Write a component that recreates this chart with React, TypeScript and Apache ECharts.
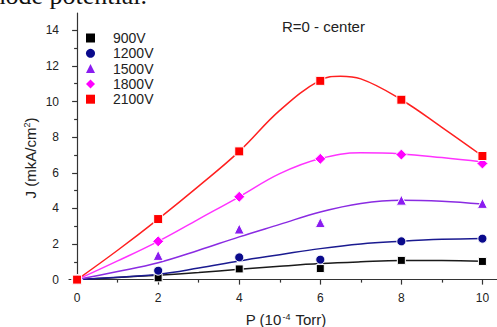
import React, { useEffect, useRef } from "react";
import * as echarts from "echarts";

const pressure = [0, 2, 4, 6, 8, 10];
const j900 = [0, 0.1, 0.6, 0.62, 1.08, 1.02];
const j1200 = [0, 0.5, 1.25, 1.12, 2.15, 2.3];
const j1500 = [0, 1.36, 2.84, 3.2, 4.46, 4.28];
const j1800 = [0, 2.15, 4.65, 6.78, 7.02, 6.52];
const j2100 = [0, 3.4, 7.2, 11.16, 10.1, 6.94];

const fitX = [0, 1, 2, 3, 4, 5, 6, 7, 8, 9, 10];
const fit900 = [0, 0.12, 0.25, 0.4, 0.58, 0.75, 0.9, 1.0, 1.07, 1.07, 1.03];
const fit1200 = [0, 0.13, 0.3, 0.65, 1.05, 1.4, 1.74, 2.0, 2.15, 2.26, 2.31];
const fit1500 = [0, 0.45, 0.95, 1.65, 2.4, 3.1, 3.8, 4.28, 4.46, 4.4, 4.24];
const fit1800 = [0, 1.05, 2.15, 3.4, 4.65, 5.95, 6.8, 7.12, 7.06, 6.85, 6.6];
const fitX2100 = [0, 1, 2, 3, 4, 5, 6, 6.5, 7, 8, 9, 10];
const fit2100 = [0, 1.65, 3.4, 5.25, 7.2, 9.5, 11.2, 11.42, 11.27, 10.1, 8.55, 6.94];

const xMajor = [0, 2, 4, 6, 8, 10];
const xMinor = [1, 3, 5, 7, 9];
const yMajor = [0, 2, 4, 6, 8, 10, 12, 14];
const yMinor = [1, 3, 5, 7, 9, 11, 13];

const names = ["900V", "1200V", "1500V", "1800V", "2100V"];
const colors = ["#000000", "#0a0a8c", "#8a1cf0", "#ff00ff", "#ff0000"];
const lineColors = ["#1a1a1a", "#1a1a90", "#8a2be2", "#ff33ff", "#ff2020"];
const symbols = ["rect", "circle", "triangle", "diamond", "rect"];
const sizes = [8, 9, 10, 11, 9];

export default function App() {
  const ref = useRef<HTMLDivElement>(null);
  useEffect(() => {
    if (!ref.current) return;
    const chart = echarts.init(ref.current, null, { renderer: "svg" });
    const pts = [j900, j1200, j1500, j1800, j2100];
    const fits = [fit900, fit1200, fit1500, fit1800, fit2100];
    const fitXs = [fitX, fitX, fitX, fitX, fitX2100];
    const series: any[] = [];
    fits.forEach((f, i) => {
      series.push({
        type: "line",
        name: names[i] + " fit",
        data: f.map((v, k) => [fitXs[i][k], v]),
        smooth: 0.4,
        showSymbol: false,
        symbol: "none",
        lineStyle: { color: lineColors[i], width: 1.5 },
        z: 2,
      });
    });
    pts.forEach((p, i) => {
      series.push({
        type: "scatter",
        name: names[i],
        data: p.map((v, k) => [pressure[k], v]),
        symbol: symbols[i],
        symbolSize: sizes[i],
        itemStyle: { color: colors[i], borderColor: "#ffffff", borderWidth: 1, opacity: 1 },
        z: 3,
      });
    });
    const axisLineStyle = { color: "#333", width: 1.2 };
    chart.setOption({
      animation: false,
      grid: { left: 69, top: 13, right: 0, bottom: 44, containLabel: false },
      legend: {
        data: names.map((n, i) => ({ name: n, icon: symbols[i], itemStyle: { color: colors[i], borderWidth: 0 } })),
        orient: "vertical",
        left: 86,
        top: 31,
        padding: 0,
        itemWidth: 9,
        itemHeight: 9,
        itemGap: 1.3,
        textStyle: { fontFamily: "Liberation Sans", fontSize: 14, color: "#222", lineHeight: 14, padding: [0, 0, 0, 13] },
      },
      xAxis: [
        {
          type: "value",
          min: -0.2,
          max: 10.36,
          axisLine: { show: true, lineStyle: axisLineStyle },
          axisTick: { show: true, inside: false, length: 5, customValues: xMajor, lineStyle: axisLineStyle },
          axisLabel: { customValues: xMajor, margin: 9, fontFamily: "Liberation Sans", fontSize: 12, color: "#222" },
          splitLine: { show: false },
        },
        {
          type: "value",
          position: "bottom",
          min: -0.2,
          max: 10.36,
          axisLine: { show: false },
          axisTick: { show: true, inside: false, length: 3, customValues: xMinor, lineStyle: axisLineStyle },
          axisLabel: { show: false },
          splitLine: { show: false },
        },
      ],
      yAxis: [
        {
          type: "value",
          min: -0.19,
          max: 14.97,
          axisLine: { show: true, lineStyle: axisLineStyle },
          axisTick: { show: true, inside: false, length: 5, customValues: yMajor, lineStyle: axisLineStyle },
          axisLabel: { customValues: yMajor, margin: 10, fontFamily: "Liberation Sans", fontSize: 12, color: "#222" },
          splitLine: { show: false },
        },
        {
          type: "value",
          position: "left",
          min: -0.19,
          max: 14.97,
          axisLine: { show: false },
          axisTick: { show: true, inside: false, length: 3, customValues: yMinor, lineStyle: axisLineStyle },
          axisLabel: { show: false },
          splitLine: { show: false },
        },
      ],
      graphic: [
        {
          type: "text",
          x: 147,
          y: 8,
          silent: true,
          style: {
            text: "thode potential.",
            fontFamily: "Liberation Serif",
            fontSize: 26,
            fill: "#111",
            textAlign: "right",
            textVerticalAlign: "bottom",
          },
        },
        {
          type: "text",
          x: 282,
          y: 26,
          style: {
            text: "R=0 - center",
            fontFamily: "Liberation Sans",
            fontSize: 15,
            fill: "#222",
            textAlign: "left",
            textVerticalAlign: "middle",
          },
        },
        {
          type: "text",
          x: 30,
          y: 158,
          rotation: Math.PI / 2,
          style: {
            text: "J (mkA/cm{sup|2})",
            rich: { sup: { fontSize: 9, verticalAlign: "top", padding: [0, 0, 6, 0], fontFamily: "Liberation Sans", fill: "#222" } },
            fontFamily: "Liberation Sans",
            fontSize: 15,
            fill: "#222",
            textAlign: "center",
            textVerticalAlign: "middle",
          },
        },
        {
          type: "text",
          x: 286,
          y: 319.5,
          style: {
            text: "P (10{sup|-4} Torr)",
            rich: { sup: { fontSize: 9, padding: [0, 1, 6, 1], fontFamily: "Liberation Sans", fill: "#222" } },
            fontFamily: "Liberation Sans",
            fontSize: 15,
            fill: "#222",
            textAlign: "center",
            textVerticalAlign: "middle",
          },
        },
      ],
      series,
    });
    return () => chart.dispose();
  }, []);
  return <div ref={ref} style={{ width: 497, height: 327, position: "absolute", left: 0, top: 0 }} />;
}
